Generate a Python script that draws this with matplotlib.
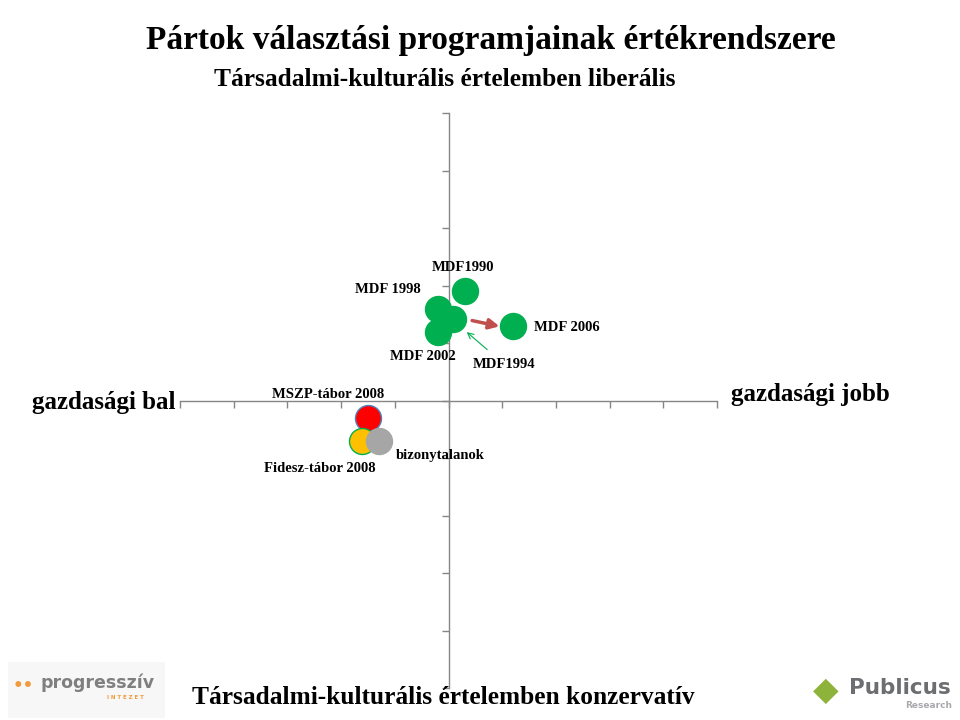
import matplotlib.pyplot as plt
from matplotlib.patches import Rectangle

# positions in the two-dimensional value space (economic left/right, social liberal/conservative)
labels = ["MDF 1998", "MDF 2002", "MDF1994", "MDF1990", "MDF 2006",
          "MSZP-tábor 2008", "Fidesz-tábor 2008", "bizonytalanok"]
x_vals = [-0.20, -0.20, 0.09, 0.30, 1.21, -1.49, -1.62, -1.30]
y_vals = [1.60, 1.20, 1.41, 1.90, 1.30, -0.31, -0.70, -0.71]
face_colors = ["#00B050", "#00B050", "#00B050", "#00B050", "#00B050",
               "#FF0000", "#FFC000", "#A6A6A6"]
edge_colors = ["#00B050", "#00B050", "#00B050", "#00B050", "#00B050",
               "#4F81BD", "#00B050", "#A6A6A6"]

# label offsets in points (dx, dy) and alignment
label_pos = {
    "MDF 1998": (-12, 14, "right"),
    "MDF 2002": (-11, -18, "center"),
    "MDF1994": (0, 0, None),
    "MDF1990": (-1, 17, "center"),
    "MDF 2006": (15, -1, "left"),
    "MSZP-tábor 2008": (-29, 17, "center"),
    "Fidesz-tábor 2008": (-30, -20, "center"),
    "bizonytalanok": (12, -10, "left"),
}

serif = "Liberation Serif"

fig = plt.figure(figsize=(9.6, 7.2), dpi=100)
ax = fig.add_axes([180 / 960, 1 - 688 / 720, 537 / 960, 575 / 720])

for i, name in enumerate(labels):
    ax.scatter(x_vals[i], y_vals[i], s=350, color=face_colors[i],
               edgecolors=edge_colors[i], linewidths=1, zorder=3)
    dx, dy, ha = label_pos[name]
    if ha is not None:
        ax.annotate(name, (x_vals[i], y_vals[i]), xytext=(dx, dy),
                    textcoords="offset points", ha=ha, va="center",
                    fontsize=10.5, fontweight="bold", family=serif, zorder=4)

# MDF1994 label with a thin green pointer
i94 = labels.index("MDF1994")
ax.annotate("MDF1994", (x_vals[i94] + 0.25, y_vals[i94] - 0.22),
            xytext=(x_vals[i94] + 0.95, y_vals[i94] - 0.78),
            ha="center", va="center", fontsize=10.5, fontweight="bold", family=serif,
            arrowprops=dict(arrowstyle="->", color="#00B050", lw=0.8,
                            shrinkA=6, shrinkB=0))

# red arrow from 1994 towards 2006
ax.annotate("", xy=(0.95, 1.29), xytext=(0.44, 1.39),
            arrowprops=dict(arrowstyle="-|>,head_length=0.6,head_width=0.3",
                            color="#C0504D", lw=2.5, shrinkA=0, shrinkB=0),
            zorder=4)

ax.set_xlim(-5, 5)
ax.set_ylim(-5, 5)
ax.spines["left"].set_position("zero")
ax.spines["bottom"].set_position("zero")
ax.spines["right"].set_visible(False)
ax.spines["top"].set_visible(False)
for sp in ["left", "bottom"]:
    ax.spines[sp].set_color("#868686")
    ax.spines[sp].set_linewidth(1)
ax.set_xticks(range(-5, 6))
ax.set_yticks(range(-5, 6))
ax.tick_params(colors="#868686", length=5, width=1, labelbottom=False, labelleft=False)
ax.patch.set_alpha(0)

# titles and axis captions
fig.text(491 / 960, 1 - 40 / 720, "Pártok választási programjainak értékrendszere",
         ha="center", va="center", fontsize=24, fontweight="bold", family=serif)
fig.text(445 / 960, 1 - 79 / 720, "Társadalmi-kulturális értelemben liberális",
         ha="center", va="center", fontsize=18.3, fontweight="bold", family=serif)
fig.text(443 / 960, 1 - 697 / 720, "Társadalmi-kulturális értelemben konzervatív",
         ha="center", va="center", fontsize=18.3, fontweight="bold", family=serif)
fig.text(176 / 960, 1 - 402 / 720, "gazdasági bal",
         ha="right", va="center", fontsize=18, fontweight="bold", family=serif)
fig.text(731 / 960, 1 - 394 / 720, "gazdasági jobb",
         ha="left", va="center", fontsize=18, fontweight="bold", family=serif)

# logo stand-ins
fig.patches.append(Rectangle((8 / 960, 2 / 720), 157 / 960, 56 / 720,
                             transform=fig.transFigure, facecolor="#F7F7F7",
                             edgecolor="none", zorder=0))
fig.text(13 / 960, 1 - 686 / 720, "\u2022\u2022", color="#F39A3C", fontsize=12,
         ha="left", va="center", fontweight="bold")
fig.text(40 / 960, 1 - 683 / 720, "progresszív", color="#7F7F7F", fontsize=12.5,
         ha="left", va="center", fontweight="bold", family="DejaVu Sans")
fig.text(125 / 960, 1 - 697 / 720, "I N T É Z E T", color="#F39A3C", fontsize=4,
         ha="center", va="center", fontweight="bold")

fig.text(826 / 960, 1 - 690 / 720, "\u25C6", color="#8DB33A", fontsize=24,
         ha="center", va="center")
fig.text(900 / 960, 1 - 688 / 720, "Publicus", color="#6D6E71", fontsize=15.5,
         ha="center", va="center", fontweight="bold", family="DejaVu Sans")
fig.text(952 / 960, 1 - 706 / 720, "Research", color="#A7A9AC", fontsize=6.5,
         ha="right", va="center", fontweight="bold", family="DejaVu Sans")

fig.savefig("out.png", dpi=100)
